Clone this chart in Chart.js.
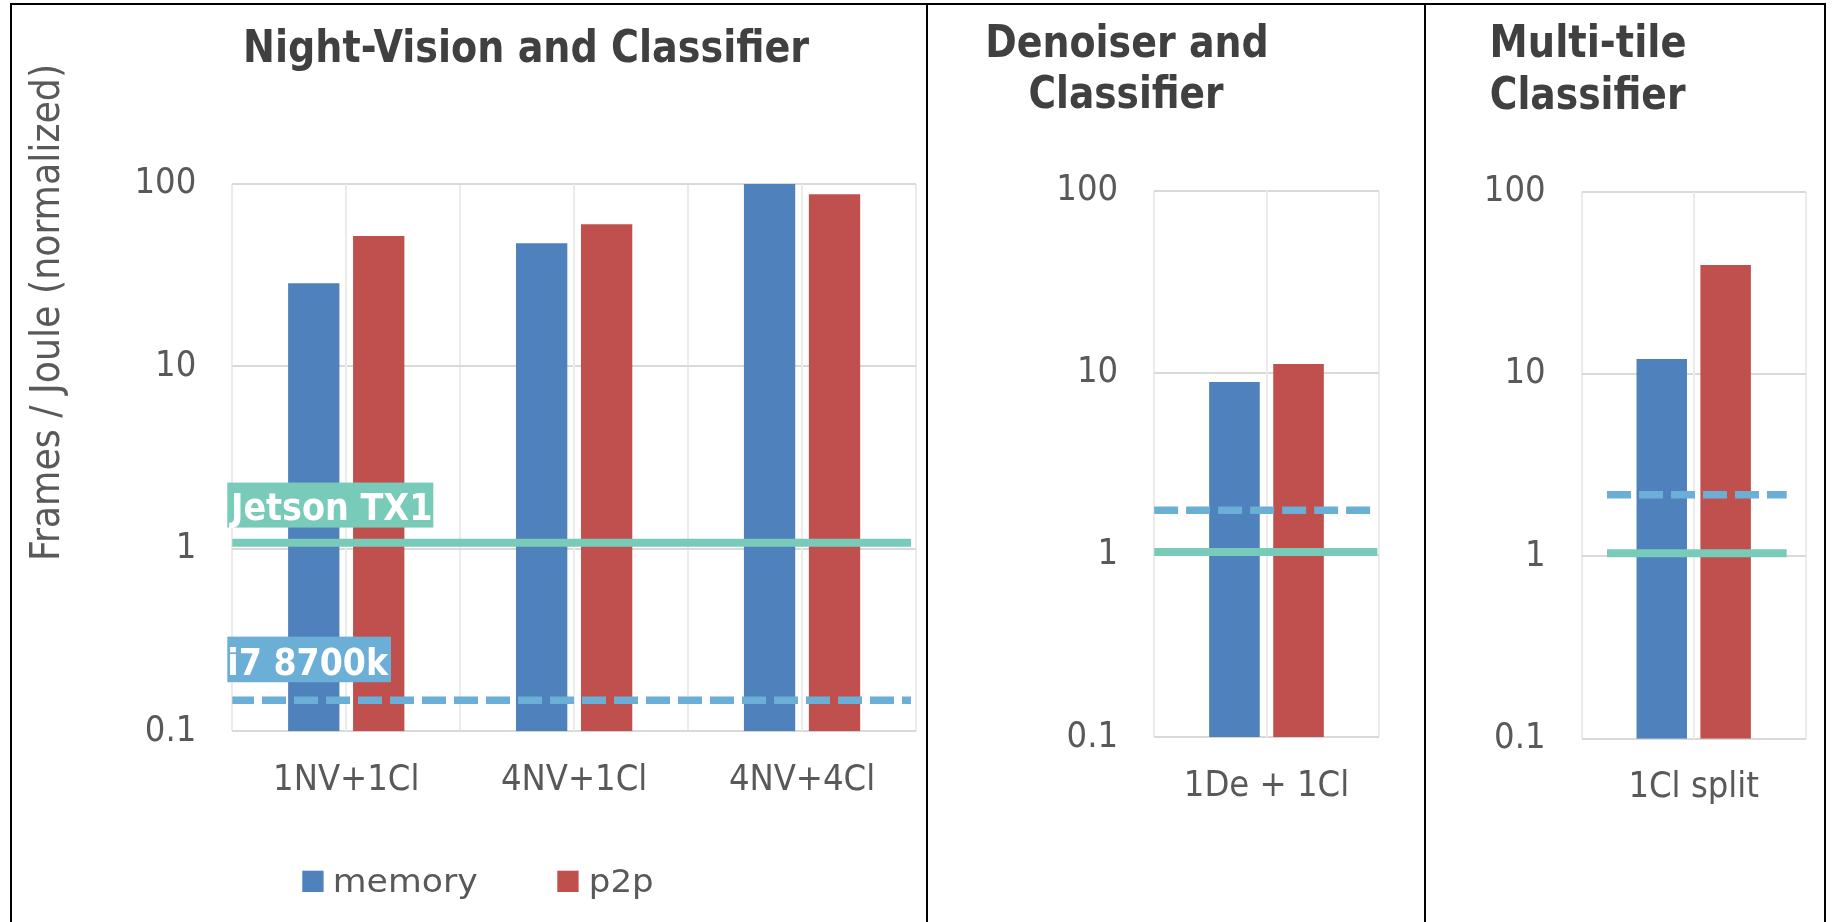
<!DOCTYPE html>
<html>
<head>
<meta charset="utf-8">
<title>Frames per Joule by pipeline</title>
<script src="https://cdn.jsdelivr.net/npm/chart.js@4.4.1/dist/chart.umd.min.js"></script>
<style>
  html, body { margin: 0; padding: 0; background: #fff; overflow: hidden; }
  #stage { position: relative; width: 1833px; height: 922px; overflow: hidden; background: #fff; }
  #stage canvas { position: absolute; left: 0; top: 0; }
  .frame { position: absolute; top: 3px; height: 960px; border: 2px solid #000; border-bottom: none; box-sizing: border-box; }
</style>
</head>
<body>
<div id="stage">
  <canvas id="nv-bars" width="1833" height="922"></canvas>
  <canvas id="de-bars" width="1833" height="922"></canvas>
  <canvas id="mt-bars" width="1833" height="922"></canvas>
  <canvas id="nv-refs" width="1833" height="922"></canvas>
  <canvas id="de-refs" width="1833" height="922"></canvas>
  <canvas id="mt-refs" width="1833" height="922"></canvas>
  <div class="frame" style="left:10px;width:918px"></div>
  <div class="frame" style="left:926px;width:500px"></div>
  <div class="frame" style="left:1424px;width:402px"></div>
</div>
<script>
// ---- data ----
const seriesNames = ['memory', 'p2p'];
const refNames = ['Jetson TX1', 'i7 8700k'];

const nvCategories = ['1NV+1Cl', '4NV+1Cl', '4NV+4Cl'];
const nvMemory = [28.6, 47.3, 100];
const nvP2p = [51.9, 60.1, 87.8];
const nvRef = [1.08, 0.148];

const deCategories = ['1De + 1Cl'];
const deMemory = [8.9];
const deP2p = [11.2];
const deRef = [1.04, 1.76];

const mtCategories = ['1Cl split'];
const mtMemory = [12.1];
const mtP2p = [39.6];
const mtRef = [1.04, 2.18];

const yTickValues = [0.1, 1, 10, 100];
const yTickLabels = ['0.1', '1', '10', '100'];
const refSpan = [0, 1];

const yAxisTitle = 'Frames / Joule (normalized)';
const nvTitle = ['Night-Vision and Classifier'];
const deTitle = ['Denoiser and', 'Classifier'];
const mtTitle = ['Multi-tile', 'Classifier'];

// ---- styles ----
const FONT = "'DejaVu Sans Condensed', 'DejaVu Sans', sans-serif";
const WIDE = "'DejaVu Sans', sans-serif";
const INK = '#595959';
const TITLE_INK = '#404040';
const GRID_H = '#d9d9d9';
const GRID_V = '#ebebeb';
const COLORS = { memory: '#4f81bd', p2p: '#c0504d', jetson: '#79cbb9', i7: '#6baed6' };

// plot rectangles (page pixels) and decoration layout for each panel
const panels = [
  {
    id: 'nv', cats: nvCategories, mem: nvMemory, p2p: nvP2p, ref: nvRef,
    area: { l: 232.3, r: 916, t: 184, b: 731.3 }, span: { min: 0.0034, max: 1.0074 },
    titles: [{ text: nvTitle[0], left: 246, base: 61.7, width: 563.6 }],
    yTitle: { x: 59.3, y: 558, width: 491 },
    legend: { x: [302.3, 557.3], y: 870.7, box: 21.3, textLeft: [335, 591], textWidth: [141.7, 61.3], base: 892.3 },
    refLabels: [
      { left: 227.3, w: 206, dyTop: -60.2, h: 45, textLeft: 229, textWidth: 201.7, dyBase: -22.5 },
      { left: 227.3, w: 163.7, dyTop: -63.6, h: 45.6, textLeft: 229.3, textWidth: 160, dyBase: -25.3 }
    ]
  },
  {
    id: 'de', cats: deCategories, mem: deMemory, p2p: deP2p, ref: deRef,
    area: { l: 1154.1, r: 1378.9, t: 190.7, b: 737.3 }, span: { min: 0, max: 1.007 },
    titles: [
      { text: deTitle[0], left: 988.1, base: 56.7, width: 278.4 },
      { text: deTitle[1], left: 1029.5, base: 108.3, width: 194.5 }
    ]
  },
  {
    id: 'mt', cats: mtCategories, mem: mtMemory, p2p: mtP2p, ref: mtRef,
    area: { l: 1581.6, r: 1805.8, t: 191.7, b: 738.7 }, span: { min: -0.1413, max: 1.1063 },
    titles: [
      { text: mtTitle[0], left: 1492.5, base: 57.3, width: 192.2 },
      { text: mtTitle[1], left: 1490.8, base: 109, width: 195.1 }
    ]
  }
];

const Y_AXIS_W = 100, X_AXIS_H = 100, PAGE_W = 1833, PAGE_H = 922;
const barCharts = {};

// draws text so its ink spans exactly [inkLeft, inkLeft + inkWidth]
function inkText(ctx, text, inkLeft, baseline, inkWidth) {
  ctx.textAlign = 'left';
  ctx.textBaseline = 'alphabetic';
  const m = ctx.measureText(text);
  const ink = m.actualBoundingBoxLeft + m.actualBoundingBoxRight;
  ctx.save();
  ctx.translate(inkLeft, baseline);
  ctx.scale(inkWidth / ink, 1);
  ctx.fillText(text, m.actualBoundingBoxLeft, 0);
  ctx.restore();
}

// titles, axis title, reference-line tags and the series legend
const decor = {
  id: 'decor',
  afterDraw(chart) {
    const p = panels.find(q => q.id + '-refs' === chart.canvas.id);
    if (!p) return;
    const ctx = chart.ctx;
    const y = chart.scales.y;
    ctx.save();

    ctx.fillStyle = TITLE_INK;
    ctx.font = `bold 44px ${FONT}`;
    p.titles.forEach(t => inkText(ctx, t.text, t.left, t.base, t.width));

    if (p.yTitle) {
      ctx.save();
      ctx.fillStyle = INK;
      ctx.font = `40px ${FONT}`;
      ctx.translate(p.yTitle.x, p.yTitle.y);
      ctx.rotate(-Math.PI / 2);
      inkText(ctx, yAxisTitle, 0, 0, p.yTitle.width);
      ctx.restore();
    }

    if (p.refLabels) {
      chart.data.datasets.forEach((d, i) => {
        const s = p.refLabels[i];
        const py = y.getPixelForValue(d.data[0].y);
        ctx.fillStyle = d.borderColor;
        ctx.fillRect(s.left, py + s.dyTop, s.w, s.h);
        ctx.fillStyle = '#ffffff';
        ctx.font = `bold 38px ${FONT}`;
        inkText(ctx, d.label, s.textLeft, py + s.dyBase, s.textWidth);
      });
    }

    const bars = barCharts[p.id];
    if (p.legend && bars) {
      const L = p.legend;
      bars.data.datasets.forEach((d, i) => {
        ctx.fillStyle = d.backgroundColor;
        ctx.fillRect(L.x[i], L.y, L.box, L.box);
        ctx.fillStyle = INK;
        ctx.font = `32px ${WIDE}`;
        inkText(ctx, d.label, L.textLeft[i], L.base, L.textWidth[i]);
      });
    }
    ctx.restore();
  }
};

function yScale(display) {
  return {
    type: 'logarithmic', position: 'left', min: 0.1, max: 100, display,
    grid: { color: GRID_H, lineWidth: 2, drawTicks: false },
    border: { display: false },
    ticks: {
      color: INK, font: { family: FONT, size: 36 }, padding: 36, autoSkip: false,
      callback: v => {
        const i = yTickValues.findIndex(t => Math.abs(t - v) < 1e-9);
        return i < 0 ? '' : yTickLabels[i];
      }
    },
    afterBuildTicks: s => { s.ticks = yTickValues.map(v => ({ value: v })); },
    afterFit: s => { if (display) s.width = Y_AXIS_W; s.paddingTop = 0; s.paddingBottom = 0; }
  };
}

function barChart(p) {
  return new Chart(document.getElementById(p.id + '-bars'), {
    type: 'bar',
    data: {
      labels: p.cats,
      datasets: [
        { label: seriesNames[0], data: p.mem, backgroundColor: COLORS.memory,
          barPercentage: 0.79, categoryPercentage: 0.57, borderWidth: 0 },
        { label: seriesNames[1], data: p.p2p, backgroundColor: COLORS.p2p,
          barPercentage: 0.79, categoryPercentage: 0.57, borderWidth: 0 }
      ]
    },
    options: {
      responsive: false, animation: false, devicePixelRatio: 1,
      layout: {
        autoPadding: false,
        padding: { left: p.area.l - Y_AXIS_W, right: PAGE_W - p.area.r, top: p.area.t, bottom: PAGE_H - p.area.b - X_AXIS_H }
      },
      plugins: { legend: { display: false }, tooltip: { enabled: false }, title: { display: false } },
      scales: {
        x: {
          type: 'category', position: 'bottom', offset: true,
          grid: { offset: true, color: GRID_V, lineWidth: 2, drawTicks: false },
          border: { display: false },
          ticks: { color: INK, font: { family: FONT, size: 36 }, padding: 27.5, maxRotation: 0, minRotation: 0, autoSkip: false },
          afterFit: s => { s.height = X_AXIS_H; s.paddingLeft = 0; s.paddingRight = 0; }
        },
        y: yScale(true)
      }
    }
  });
}

// reference lines, plus the gridlines through each category centre
function refChart(p) {
  return new Chart(document.getElementById(p.id + '-refs'), {
    type: 'line',
    data: {
      labels: p.cats,
      datasets: [
        { label: refNames[0], xAxisID: 'xr', data: refSpan.map(x => ({ x, y: p.ref[0] })),
          borderColor: COLORS.jetson, borderWidth: 8, borderCapStyle: 'butt', pointRadius: 0, tension: 0 },
        { label: refNames[1], xAxisID: 'xr', data: refSpan.map(x => ({ x, y: p.ref[1] })),
          borderColor: COLORS.i7, borderWidth: 7.5, borderDash: [24, 8], borderCapStyle: 'butt', pointRadius: 0, tension: 0 }
      ]
    },
    options: {
      responsive: false, animation: false, devicePixelRatio: 1,
      layout: {
        autoPadding: false,
        padding: { left: p.area.l, right: PAGE_W - p.area.r, top: p.area.t, bottom: PAGE_H - p.area.b }
      },
      plugins: { legend: { display: false }, tooltip: { enabled: false }, title: { display: false } },
      scales: {
        x: {
          type: 'category', position: 'bottom', offset: true,
          grid: { offset: false, color: GRID_V, lineWidth: 2, drawTicks: false },
          border: { display: false },
          ticks: { display: false },
          afterFit: s => { s.height = 0; s.paddingLeft = 0; s.paddingRight = 0; }
        },
        xr: { type: 'linear', display: false, offset: false, min: p.span.min, max: p.span.max },
        y: yScale(false)
      }
    },
    plugins: [decor]
  });
}

panels.forEach(p => {
  barCharts[p.id] = barChart(p);
  refChart(p);
});
</script>
</body>
</html>
